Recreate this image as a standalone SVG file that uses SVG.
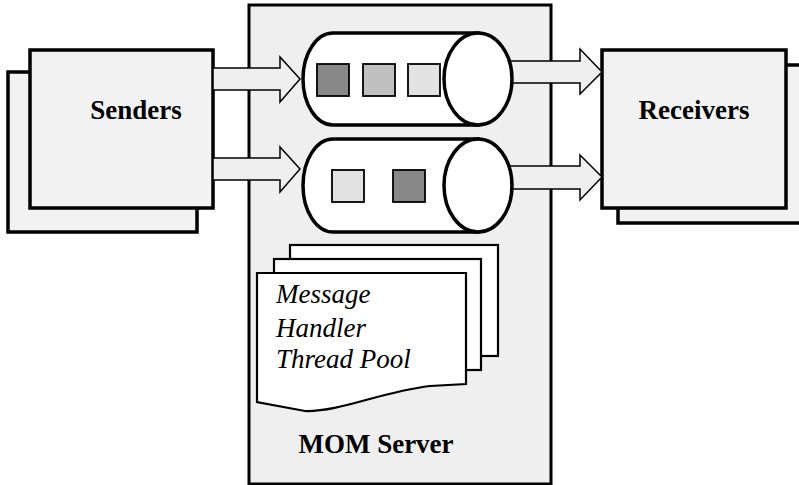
<svg xmlns="http://www.w3.org/2000/svg" width="799" height="485" viewBox="0 0 799 485">
<style>
.box{fill:#f2f2f2;stroke:#000;stroke-width:3.5}
.srv{fill:#efefef;stroke:#000;stroke-width:3}
.arr{fill:#efefef;stroke:#000;stroke-width:1.5;stroke-linejoin:miter}
.q{fill:#fff;stroke:#000;stroke-width:3.5}
.sq{stroke:#000;stroke-width:1.8}
.pg{fill:#fff;stroke:#000;stroke-width:2.2}
.lb{font-family:"Liberation Serif",serif;font-weight:bold;font-size:27px;fill:#000}
.it{font-family:"Liberation Serif",serif;font-style:italic;font-size:27px;fill:#000}
</style>
<g id="mom-server">
<rect class="srv" x="249" y="5" width="302" height="479"/>
<text class="lb" x="376" y="453" text-anchor="middle">MOM Server</text>
</g>
<g id="senders">
<rect class="box" x="8" y="72" width="189" height="160"/>
<rect class="box" x="30" y="50" width="183" height="158"/>
<text class="lb" x="136" y="119" text-anchor="middle">Senders</text>
</g>
<g id="receivers">
<rect class="box" x="618" y="65" width="190" height="158"/>
<rect class="box" x="602" y="50" width="184" height="158"/>
<text class="lb" x="694" y="119" text-anchor="middle">Receivers</text>
</g>
<g id="connectors">
<path class="arr" d="M213,68 H280 V57 L300,79 L280,102 V90 H213 Z"/>
<path class="arr" d="M213,158 H280 V147 L300,169 L280,192 V180 H213 Z"/>
<path class="arr" d="M505,61 H580 V49 L602,72 L580,94 V83 H505 Z"/>
<path class="arr" d="M505,166 H580 V155 L602,177 L580,200 V189 H505 Z"/>
</g>
<g id="queue-1">
<path class="q" d="M333,33 H478 V125 H333 A30,46 0 0 1 333,33 Z"/>
<ellipse class="q" cx="478" cy="79" rx="34" ry="46"/>
<rect class="sq" x="317" y="64" width="32" height="32" fill="#888888"/>
<rect class="sq" x="363" y="64" width="32" height="32" fill="#c0c0c0"/>
<rect class="sq" x="408" y="64" width="32" height="32" fill="#e2e2e2"/>
</g>
<g id="queue-2">
<path class="q" d="M333,139 H478 V232 H333 A30,46.5 0 0 1 333,139 Z"/>
<ellipse class="q" cx="478" cy="185.5" rx="34" ry="46.5"/>
<rect class="sq" x="332" y="170" width="32" height="32" fill="#e2e2e2"/>
<rect class="sq" x="393" y="170" width="32" height="32" fill="#888888"/>
</g>
<g id="thread-pool">
<rect class="pg" x="290" y="245" width="208" height="111"/>
<rect class="pg" x="274" y="259" width="207" height="111"/>
<path class="pg" d="M257,273 H466 V384 L430,386 C380,392 340,412 305,411 L257,402 Z"/>
<text class="it" x="276" y="303">Message</text>
<text class="it" x="276" y="337">Handler</text>
<text class="it" x="276" y="368">Thread Pool</text>
</g>
</svg>
